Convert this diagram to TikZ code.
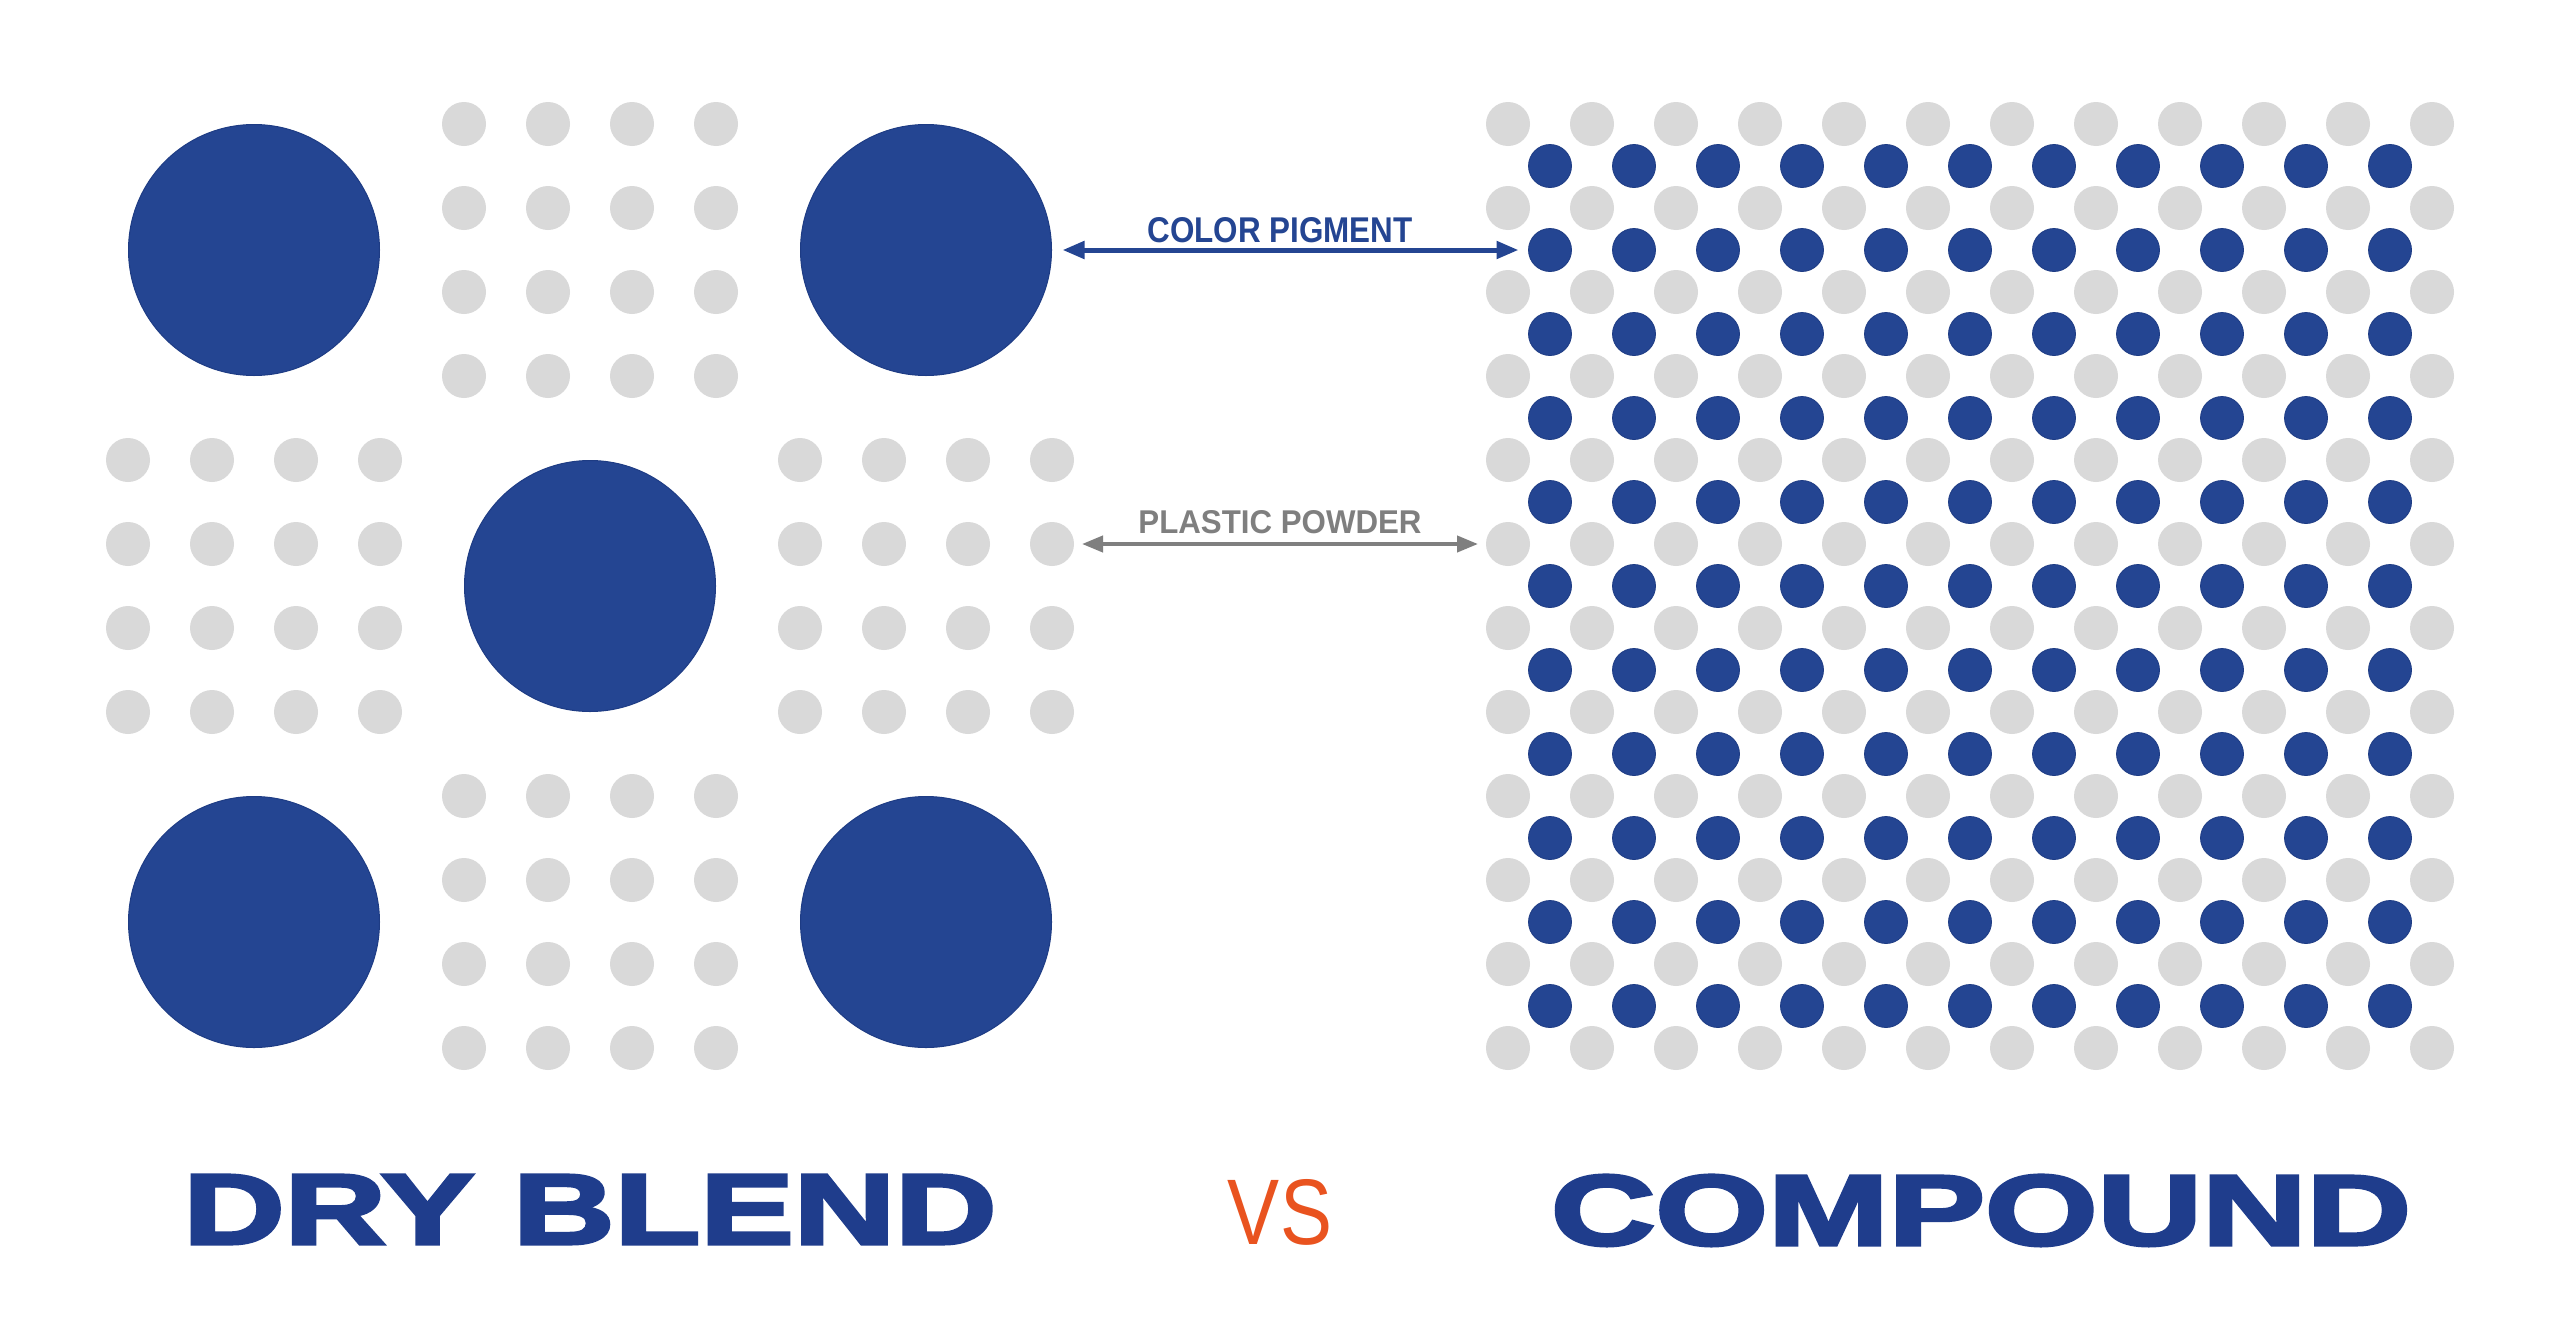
\documentclass[tikz,border=0pt]{standalone}
\usepackage{fontspec}
\setmainfont{Liberation Sans}
\newfontfamily\titlefont{Liberation Sans}[BoldFeatures={FakeBold=3}]
\usepackage{graphicx}
\usetikzlibrary{arrows.meta}
\definecolor{pblue}{HTML}{244592}
\definecolor{pbluedark}{HTML}{1E3C84}
\definecolor{tblue}{HTML}{1F3D8C}
\definecolor{dotgray}{HTML}{D9D9D9}
\definecolor{arrgray}{HTML}{7F7F7F}
\definecolor{vsorange}{HTML}{E9531F}
\begin{document}
\begin{tikzpicture}[x=1pt,y=-1pt,
  gdot/.style={circle,fill=dotgray,minimum size=44pt,inner sep=0pt,outer sep=0pt},
  bdot/.style={circle,fill=pblue,draw=pbluedark,line width=0.8pt,minimum size=43pt,inner sep=0pt,outer sep=0pt},
  bigdot/.style={circle,fill=pblue,draw=pbluedark,line width=1pt,minimum size=251pt,inner sep=0pt,outer sep=0pt},
  pigarrow/.style={draw=pblue,line width=5pt,{Triangle[length=22pt,width=17pt]}-{Triangle[length=22pt,width=17pt]}},
  powarrow/.style={draw=arrgray,line width=4pt,{Triangle[length=21pt,width=16pt]}-{Triangle[length=21pt,width=16pt]}},
  lbl/.style={anchor=base,inner sep=0pt,outer sep=0pt}]
\fill[white] (0,0) rectangle (2560,1344);
\useasboundingbox (0,0) rectangle (2560,1344);
% left gray groups
\foreach \br/\bc in {0/1,1/0,1/2,2/1}{
  \foreach \i in {0,...,3}{
    \foreach \j in {0,...,3}{
      \pgfmathtruncatemacro\col{4*\bc+\i}
      \pgfmathtruncatemacro\row{4*\br+\j}
      \node[gdot] (L-\row-\col) at ({128+84*\col},{124+84*\row}) {};
    }
  }
}
% big pigment circles
\node[bigdot] (bigTL) at (254,250) {};
\node[bigdot] (bigTR) at (926,250) {};
\node[bigdot] (bigC) at (590,586) {};
\node[bigdot] (bigBL) at (254,922) {};
\node[bigdot] (bigBR) at (926,922) {};
% right grid
\foreach \r in {0,...,11}{
  \foreach \c in {0,...,11}{
    \node[gdot] (R-\r-\c) at ({1508+84*\c},{124+84*\r}) {};
  }
}
\foreach \r in {0,...,10}{
  \foreach \c in {0,...,10}{
    \node[bdot] (B-\r-\c) at ({1550+84*\c},{166+84*\r}) {};
  }
}
% arrows
\draw[pigarrow,shorten <=11pt,shorten >=10pt] (bigTR) -- (B-1-0);
\draw[powarrow,shorten <=8pt,shorten >=8pt] (L-5-11) -- (R-5-0);
% labels
\node[lbl,text=pblue] (lblpig) at (1280,242) {\resizebox{265pt}{25pt}{\bfseries COLOR PIGMENT}};
\node[lbl,text=arrgray] (lblpow) at (1280,533) {\resizebox{283pt}{23pt}{\bfseries PLASTIC POWDER}};
% titles
\node[lbl,text=tblue] (tdry) at (590,1244) {\resizebox{813pt}{69pt}{\titlefont\bfseries DRY BLEND}};
\node[lbl,text=vsorange] (tvs) at (1280,1244) {\resizebox{104pt}{65pt}{VS}};
\node[lbl,text=tblue] (tcomp) at (1981,1245) {\resizebox{860pt}{70pt}{\titlefont\bfseries COMPOUND}};
\end{tikzpicture}
\end{document}
